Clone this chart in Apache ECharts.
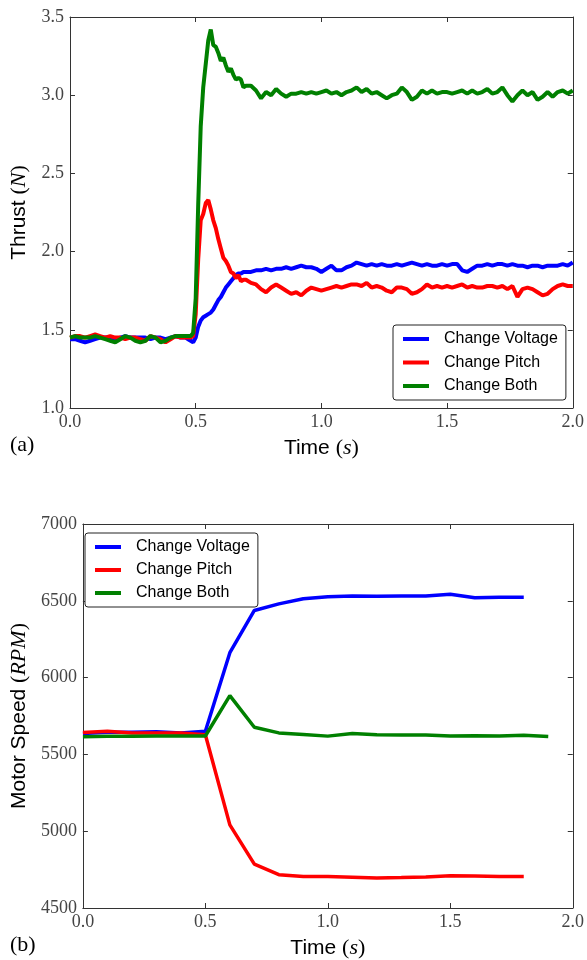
<!DOCTYPE html>
<html>
<head>
<meta charset="utf-8">
<script src="https://cdn.jsdelivr.net/npm/echarts@6/dist/echarts.min.js"></script>
<style>html,body{margin:0;padding:0;background:#fff}#c{width:587px;height:960px}</style>
</head>
<body>
<div id="c"></div>
<script>
// ---- (a) Thrust vs time ----
const thrustTime = [
0.00,0.02,0.04,0.06,0.08,0.10,0.12,0.14,0.16,0.18,0.20,0.22,0.24,0.26,0.28,0.30,0.32,0.34,0.36,0.38,0.40,0.42,0.44,0.46,
0.47,0.48,0.49,0.50,0.51,0.52,0.53,0.54,0.55,0.56,0.57,0.58,0.59,0.60,0.61,0.62,0.63,0.64,0.65,0.66,0.67,0.68,0.69,0.70,
0.72,0.74,0.76,0.78,0.80,0.82,0.84,0.86,0.88,0.90,
0.92,0.94,0.96,0.98,1.00,1.02,1.04,1.06,1.08,1.10,
1.12,1.14,1.16,1.18,1.20,1.22,1.24,1.26,1.28,1.30,
1.32,1.34,1.36,1.38,1.40,1.42,1.44,1.46,1.48,1.50,
1.52,1.54,1.56,1.58,1.60,1.62,1.64,1.66,1.68,1.70,
1.72,1.74,1.76,1.78,1.80,1.82,1.84,1.86,1.88,1.90,
1.92,1.94,1.96,1.98,2.00];
const thrustVoltage = [
1.44,1.44,1.43,1.42,1.43,1.44,1.45,1.45,1.45,1.44,1.45,1.46,1.45,1.45,1.45,1.45,1.44,1.45,1.45,1.44,1.45,1.46,1.45,1.45,
1.44,1.43,1.42,1.45,1.52,1.56,1.58,1.59,1.60,1.61,1.63,1.66,1.69,1.71,1.74,1.77,1.79,1.81,1.83,1.85,1.86,1.86,1.87,1.87,
1.87,1.88,1.88,1.89,1.88,1.89,1.89,1.90,1.89,1.90,
1.91,1.90,1.90,1.89,1.87,1.89,1.91,1.88,1.88,1.90,
1.91,1.93,1.92,1.91,1.92,1.91,1.92,1.91,1.91,1.92,
1.91,1.92,1.93,1.92,1.91,1.92,1.91,1.91,1.92,1.91,
1.92,1.92,1.88,1.87,1.89,1.91,1.91,1.92,1.91,1.92,
1.92,1.91,1.92,1.91,1.91,1.90,1.91,1.91,1.90,1.91,
1.91,1.91,1.92,1.91,1.93];
const thrustPitch = [
1.45,1.46,1.46,1.45,1.46,1.47,1.46,1.45,1.46,1.45,1.45,1.44,1.45,1.45,1.44,1.43,1.46,1.45,1.44,1.42,1.44,1.46,1.45,1.45,
1.45,1.45,1.46,1.60,1.95,2.20,2.24,2.31,2.33,2.27,2.20,2.15,2.08,2.02,1.96,1.94,1.91,1.87,1.86,1.83,1.85,1.81,1.82,1.82,
1.80,1.79,1.76,1.74,1.77,1.79,1.77,1.75,1.73,1.74,
1.72,1.75,1.77,1.76,1.75,1.76,1.77,1.78,1.77,1.78,
1.79,1.79,1.78,1.80,1.77,1.78,1.77,1.75,1.74,1.77,
1.77,1.76,1.73,1.74,1.76,1.79,1.77,1.78,1.77,1.78,
1.77,1.78,1.79,1.77,1.78,1.77,1.77,1.78,1.78,1.77,
1.78,1.76,1.78,1.71,1.76,1.77,1.76,1.74,1.72,1.73,
1.76,1.78,1.79,1.78,1.78];
const thrustBoth = [
1.45,1.46,1.45,1.45,1.45,1.46,1.45,1.44,1.43,1.42,1.44,1.46,1.45,1.43,1.42,1.43,1.46,1.45,1.42,1.43,1.45,1.46,1.46,1.46,
1.46,1.46,1.48,1.70,2.30,2.80,3.05,3.20,3.35,3.42,3.32,3.31,3.27,3.22,3.24,3.19,3.15,3.17,3.13,3.10,3.11,3.10,3.05,3.06,
3.06,3.03,2.98,3.02,3.00,3.04,3.01,2.99,3.01,3.01,
3.02,3.01,3.02,3.01,3.02,3.03,3.01,3.02,3.00,3.02,
3.03,3.05,3.02,3.04,3.01,3.02,3.00,2.98,3.00,3.01,
3.05,3.02,2.97,2.99,3.03,3.01,3.03,3.01,3.02,3.02,
3.01,3.02,3.03,3.01,3.03,3.01,3.02,3.04,3.01,3.02,
3.05,3.00,2.96,3.00,3.03,3.00,3.02,2.97,2.99,3.02,
2.99,3.02,3.03,3.01,3.03];

// ---- (b) Motor speed vs time ----
const speedTime = [0.0,0.1,0.2,0.3,0.4,0.5,0.6,0.7,0.8,0.9,1.0,1.1,1.2,1.3,1.4,1.5,1.6,1.7,1.8,1.9];
const speedVoltage = [5636,5645,5645,5648,5640,5651,6162,6437,6480,6513,6526,6532,6530,6532,6532,6543,6520,6523,6523];
const speedPitch   = [5643,5650,5640,5640,5640,5628,5041,4786,4717,4705,4705,4700,4695,4698,4702,4710,4708,4705,4705];
const speedBoth    = [5615,5618,5618,5620,5620,5620,5883,5677,5640,5630,5619,5636,5628,5626,5626,5620,5622,5619,5624,5616];

const seriesNames = ['Change Voltage','Change Pitch','Change Both'];
const colors = ['#0000ff','#ff0000','#008000'];

function pairs(t, v){ return v.map((y,i)=>[t[i], y]); }

const SERIF = 'Liberation Serif';
const SANS = 'Liberation Sans';
const lineCol = '#333';
const rich = {
  s: {fontFamily: SANS, fontSize: 21, color:'#000'},
  p: {fontFamily: SERIF, fontSize: 22, color:'#000'},
  i: {fontFamily: SERIF, fontSize: 22, fontStyle:'italic', color:'#000'}
};

function mainX(grid, name){
  return {type:'value', gridIndex:grid, min:0, max:2, interval:0.5, position:'bottom',
    axisLine:{show:true, onZero:false, lineStyle:{color:lineCol, width:1}},
    axisTick:{show:true, inside:true, length:5, lineStyle:{color:lineCol}},
    axisLabel:{show:true, margin:5, fontFamily:SERIF, fontSize:18, color:'#444', formatter:v=>v.toFixed(1)},
    splitLine:{show:false},
    name:name, nameLocation:'middle', nameGap:29, nameTextStyle:{rich:rich}};
}
function topX(grid){
  return {type:'value', gridIndex:grid, min:0, max:2, interval:0.5, position:'top',
    axisLine:{show:true, onZero:false, lineStyle:{color:lineCol, width:1}},
    axisTick:{show:true, inside:true, length:5, lineStyle:{color:lineCol}},
    axisLabel:{show:false}, splitLine:{show:false}};
}
function mainY(grid, min, max, interval, dec, name, gap){
  return {type:'value', gridIndex:grid, min:min, max:max, interval:interval, position:'left',
    axisLine:{show:true, onZero:false, lineStyle:{color:lineCol, width:1}},
    axisTick:{show:true, inside:true, length:5, lineStyle:{color:lineCol}},
    axisLabel:{show:true, margin:6, fontFamily:SERIF, fontSize:18, color:'#444', formatter:v=>v.toFixed(dec)},
    splitLine:{show:false},
    name:name, nameLocation:'middle', nameGap:gap, nameTextStyle:{rich:rich}};
}
function rightY(grid, min, max, interval){
  return {type:'value', gridIndex:grid, min:min, max:max, interval:interval, position:'right',
    axisLine:{show:true, onZero:false, lineStyle:{color:lineCol, width:1}},
    axisTick:{show:true, inside:true, length:5, lineStyle:{color:lineCol}},
    axisLabel:{show:false}, splitLine:{show:false}};
}
function legend(left, top, rowH, gap, pad){
  return {orient:'vertical', left:left, top:top, icon:'rect', itemWidth:26, itemHeight:4, itemGap:gap,
    padding:pad, borderColor:'#222', borderWidth:1, borderRadius:3, backgroundColor:'#fff',
    selectedMode:false, data:seriesNames,
    textStyle:{fontFamily:SANS, fontSize:16, color:'#000', lineHeight:rowH, padding:[0,0,0,10]}};
}

const thrustData = [thrustVoltage, thrustPitch, thrustBoth];
const speedData = [speedVoltage, speedPitch, speedBoth];

const series = [];
thrustData.forEach((d,i)=>series.push({name:seriesNames[i], type:'line', xAxisIndex:0, yAxisIndex:0,
  data:pairs(thrustTime,d), showSymbol:false, symbol:'none', lineStyle:{width:4, color:colors[i]}, itemStyle:{color:colors[i]}, z:2+i}));
speedData.forEach((d,i)=>series.push({name:seriesNames[i], type:'line', xAxisIndex:2, yAxisIndex:2,
  data:pairs(speedTime,d), showSymbol:false, symbol:'none', lineStyle:{width:3.5, color:colors[i]}, itemStyle:{color:colors[i]}, z:2+i}));

const option = {
  animation:false,
  backgroundColor:'#fff',
  grid:[
    {left:70, right:12, top:17, height:391},
    {left:77, right:14, top:524, height:385}
  ],
  xAxis:[mainX(0, '{s|Time }{p|(}{i|s}{p|)}'), topX(0), mainX(1, '{s|Time }{p|(}{i|s}{p|)}'), topX(1)],
  yAxis:[
    mainY(0, 1.0, 3.5, 0.5, 1, '{s|Thrust }{p|(}{i|N}{p|)}', 34), rightY(0, 1.0, 3.5, 0.5),
    mainY(1, 4500, 7000, 500, 0, '{s|Motor Speed }{p|(}{i|RPM}{p|)}', 48), rightY(1, 4500, 7000, 500)
  ],
  legend:[
    legend(393, 325, 18, 5.5, [5,8,5,10]),
    legend(85, 533, 18, 5, [5,8,5,10])
  ],
  graphic:[
    {type:'text', left:10, top:434, style:{text:'(a)', font:'22px "Liberation Serif"', fill:'#000'}},
    {type:'text', left:10, top:934, style:{text:'(b)', font:'22px "Liberation Serif"', fill:'#000'}}
  ],
  series:series
};
echarts.init(document.getElementById('c'), null, {renderer:'canvas'}).setOption(option);
</script>
</body>
</html>
